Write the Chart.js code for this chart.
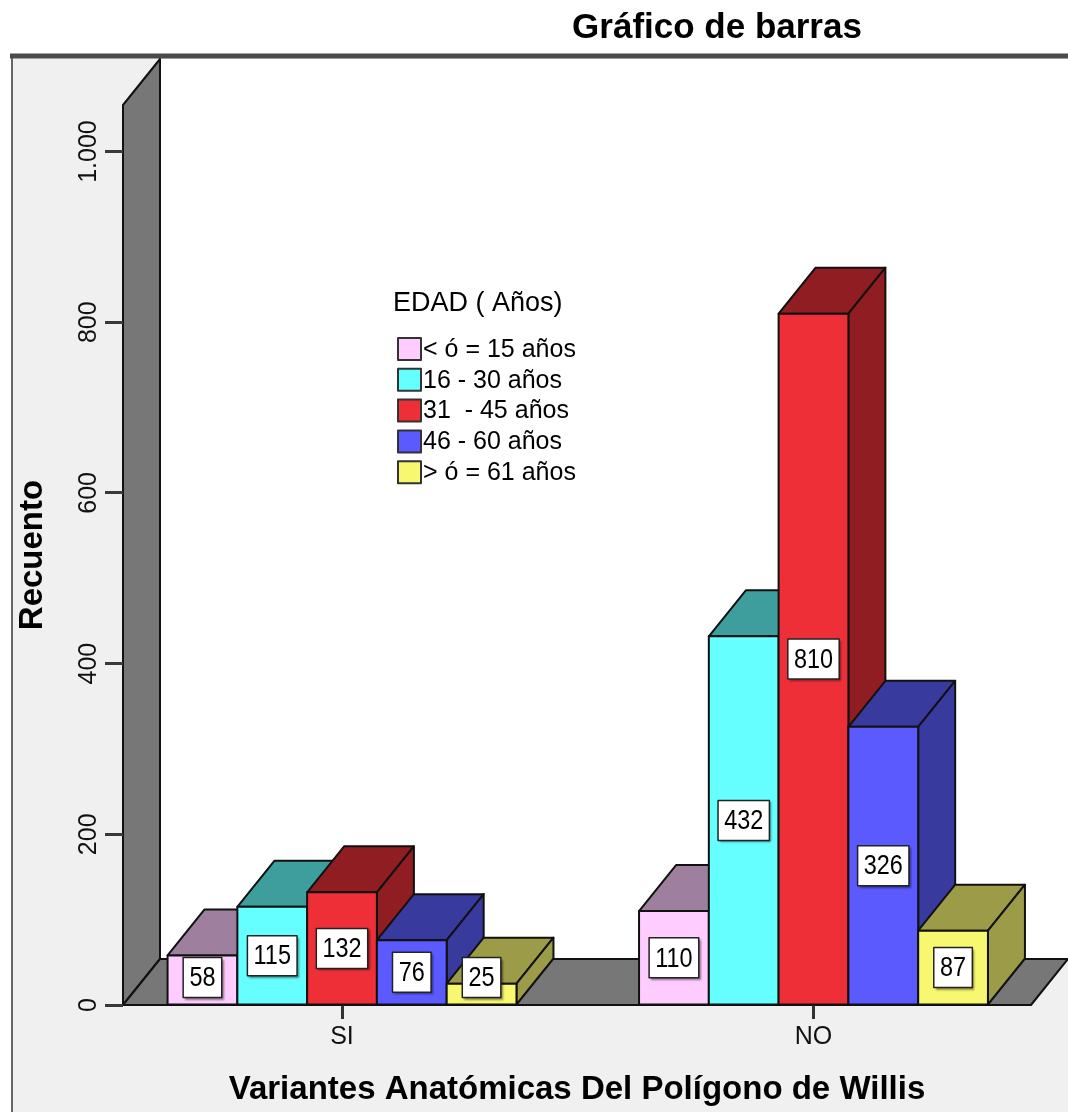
<!DOCTYPE html>
<html>
<head>
<meta charset="utf-8">
<title>Gráfico de barras</title>
<script src="https://cdn.jsdelivr.net/npm/chart.js@4.4.1/dist/chart.umd.min.js"></script>
<style>
  html, body { margin: 0; padding: 0; background: #fff; }
  #wrap { width: 1068px; height: 1112px; }
</style>
</head>
<body>
<div id="wrap"><canvas id="bar3d" width="1068" height="1112"></canvas></div>
<script>
// datos
const categories = ["SI", "NO"];
const seriesNames = ["< ó = 15 años", "16 - 30 años", "31  - 45 años", "46 - 60 años", "> ó = 61 años"];
const menor15 = [58, 110];
const de16a30 = [115, 432];
const de31a45 = [132, 810];
const de46a60 = [76, 326];
const mayor61 = [25, 87];
const yTickValues = [0, 200, 400, 600, 800, 1000];
const yTickLabels = ["0", "200", "400", "600", "800", "1.000"];

// colores: cara frontal y cara superior/lateral
const frontColors = ["#FFCCFF", "#66FFFF", "#EF2F38", "#5A5AFF", "#F8F870"];
const shadeColors = ["#9E7F9E", "#3E9E9E", "#8F1D21", "#393A9E", "#9C9C48"];

const FONT = "'Liberation Sans', Arial, sans-serif";
const DX = 37, DY = -46; // profundidad 3D

function poly(ctx, pts, fill, stroke, lw) {
  ctx.beginPath();
  ctx.moveTo(pts[0][0], pts[0][1]);
  for (let i = 1; i < pts.length; i++) ctx.lineTo(pts[i][0], pts[i][1]);
  ctx.closePath();
  if (fill) { ctx.fillStyle = fill; ctx.fill(); }
  if (stroke) { ctx.strokeStyle = stroke; ctx.lineWidth = lw || 2; ctx.stroke(); }
}

const scenePlugin = {
  id: "scene3d",
  beforeDraw(chart) {
    const ctx = chart.ctx;
    const a = chart.chartArea;
    ctx.save();
    ctx.fillStyle = "#fff";
    ctx.fillRect(0, 0, chart.width, chart.height);

    // marco exterior
    ctx.fillStyle = "#f0f0f0";
    ctx.fillRect(12, 56, chart.width, chart.height);
    ctx.strokeStyle = "#666";
    ctx.lineWidth = 2;
    ctx.beginPath(); ctx.moveTo(12, chart.height); ctx.lineTo(12, 56); ctx.stroke();
    ctx.strokeStyle = "#4a4a4a";
    ctx.lineWidth = 5;
    ctx.beginPath(); ctx.moveTo(10, 56); ctx.lineTo(chart.width, 56); ctx.stroke();

    // titulo
    ctx.fillStyle = "#000";
    ctx.font = "bold 35px " + FONT;
    ctx.textAlign = "center";
    ctx.textBaseline = "middle";
    ctx.fillText("Gráfico de barras", 717, 28);

    // pared del fondo, pared izquierda y suelo
    poly(ctx, [[a.left + DX, a.top + DY], [a.right + DX, a.top + DY], [a.right + DX, a.bottom + DY], [a.left + DX, a.bottom + DY]], "#fff");
    ctx.lineJoin = "round";
    poly(ctx, [[a.left, a.top], [a.left + DX, a.top + DY], [a.left + DX, a.bottom + DY], [a.left, a.bottom]], "#777", "#111", 2);
    poly(ctx, [[a.left, a.bottom], [a.left + DX, a.bottom + DY], [a.right + DX, a.bottom + DY], [a.right, a.bottom]], "#777", "#111", 2);
    ctx.restore();
  },
  afterDatasetsDraw(chart) {
    const ctx = chart.ctx;
    const bars = [];
    chart.data.datasets.forEach((ds, i) => {
      chart.getDatasetMeta(i).data.forEach((el, j) => {
        const p = el.getProps(["x", "y", "base", "width"], true);
        bars.push({
          l: p.x - p.width / 2, r: p.x + p.width / 2, x: p.x,
          top: p.y, base: p.base,
          front: frontColors[i], shade: shadeColors[i],
          value: ds.data[j].y
        });
      });
    });
    // de izquierda a derecha para que las caras se tapen bien
    bars.sort((a, b) => a.l - b.l);
    ctx.save();
    ctx.lineJoin = "round";
    bars.forEach(b => {
      poly(ctx, [[b.l, b.top], [b.r, b.top], [b.r + DX, b.top + DY], [b.l + DX, b.top + DY]], b.shade, "#111", 2);
      poly(ctx, [[b.r, b.top], [b.r + DX, b.top + DY], [b.r + DX, b.base + DY], [b.r, b.base]], b.shade, "#111", 2);
      poly(ctx, [[b.l, b.top], [b.r, b.top], [b.r, b.base], [b.l, b.base]], b.front, "#111", 2);
    });

    // etiquetas de valor
    ctx.font = "23px " + FONT;
    bars.forEach(b => {
      const txt = String(b.value);
      const w = ctx.measureText(txt).width + 13, h = 40;
      let cy = (b.top + b.base) / 2;
      cy = Math.min(cy, b.base - 7 - h / 2);
      ctx.save();
      ctx.shadowColor = "rgba(0,0,0,0.45)";
      ctx.shadowOffsetX = 2;
      ctx.shadowOffsetY = 2;
      ctx.shadowBlur = 2;
      ctx.fillStyle = "#fff";
      ctx.fillRect(b.x - w / 2, cy - h / 2, w, h);
      ctx.restore();
      ctx.strokeStyle = "#222";
      ctx.lineWidth = 1.5;
      ctx.strokeRect(b.x - w / 2, cy - h / 2, w, h);
      ctx.save();
      ctx.translate(b.x, cy + 1);
      ctx.scale(1.02, 1.22);
      ctx.fillStyle = "#000";
      ctx.textAlign = "center";
      ctx.textBaseline = "middle";
      ctx.fillText(txt, 0, 0);
      ctx.restore();
    });

    // leyenda
    ctx.fillStyle = "#000";
    ctx.textAlign = "left";
    ctx.textBaseline = "middle";
    ctx.font = "27px " + FONT;
    ctx.fillText("EDAD ( Años)", 393, 304);
    ctx.font = "25px " + FONT;
    seriesNames.forEach((name, i) => {
      const cy = 349 + i * 30.8;
      ctx.fillStyle = frontColors[i];
      ctx.fillRect(398, cy - 11, 23, 22);
      ctx.strokeStyle = "#333";
      ctx.lineWidth = 2;
      ctx.strokeRect(398, cy - 11, 23, 22);
      ctx.fillStyle = "#000";
      ctx.fillText(name, 423, cy + 1);
    });
    ctx.restore();
  }
};

const seriesValues = [menor15, de16a30, de31a45, de46a60, mayor61];

new Chart(document.getElementById("bar3d"), {
  type: "bar",
  data: {
    datasets: seriesNames.map((name, i) => ({
      label: name,
      data: categories.map((c, k) => ({ x: k, y: seriesValues[i][k] })),
      backgroundColor: frontColors[i],
      borderColor: "#111",
      borderWidth: 2,
      categoryPercentage: 0.74,
      barPercentage: 1
    }))
  },
  options: {
    responsive: false,
    animation: false,
    devicePixelRatio: 1,
    layout: { padding: { left: 0, top: 105, right: 37, bottom: 0 } },
    plugins: {
      legend: { display: false },
      tooltip: { enabled: false },
      title: { display: false }
    },
    scales: {
      x: {
        type: "linear",
        min: -0.4645,
        max: 1.4613,
        offset: false,
        afterBuildTicks: s => { s.ticks = categories.map((c, k) => ({ value: k })); },
        afterFit: s => { s.height = 107; },
        grid: { offset: false, drawOnChartArea: false, drawTicks: true, tickLength: 14, tickColor: "#333", tickWidth: 3 },
        border: { display: false },
        ticks: {
          callback: v => categories[v],
          font: { family: FONT, size: 25 },
          color: "#111",
          padding: 3,
          autoSkip: false,
          minRotation: 0,
          maxRotation: 0
        },
        title: {
          display: true,
          text: "Variantes Anatómicas Del Polígono de Willis",
          font: { family: FONT, size: 33, weight: "bold" },
          color: "#000",
          padding: { top: 0, bottom: 2 }
        }
      },
      y: {
        min: 0,
        max: 1054.5,
        afterBuildTicks: s => { s.ticks = yTickValues.map(v => ({ value: v })); },
        afterFit: s => { s.width = 123; },
        grid: { drawOnChartArea: false, drawTicks: true, tickLength: 18, tickColor: "#3a3a3a", tickWidth: 3 },
        border: { display: false },
        ticks: {
          callback: v => yTickLabels[yTickValues.indexOf(v)],
          font: { family: FONT, size: 25 },
          color: "#111",
          minRotation: 90,
          maxRotation: 90,
          crossAlign: "center",
          padding: -15
        },
        title: {
          display: true,
          text: "Recuento",
          font: { family: FONT, size: 33, weight: "bold" },
          color: "#000",
          padding: { top: 13, bottom: 0 }
        }
      }
    }
  },
  plugins: [scenePlugin]
});
</script>
</body>
</html>
